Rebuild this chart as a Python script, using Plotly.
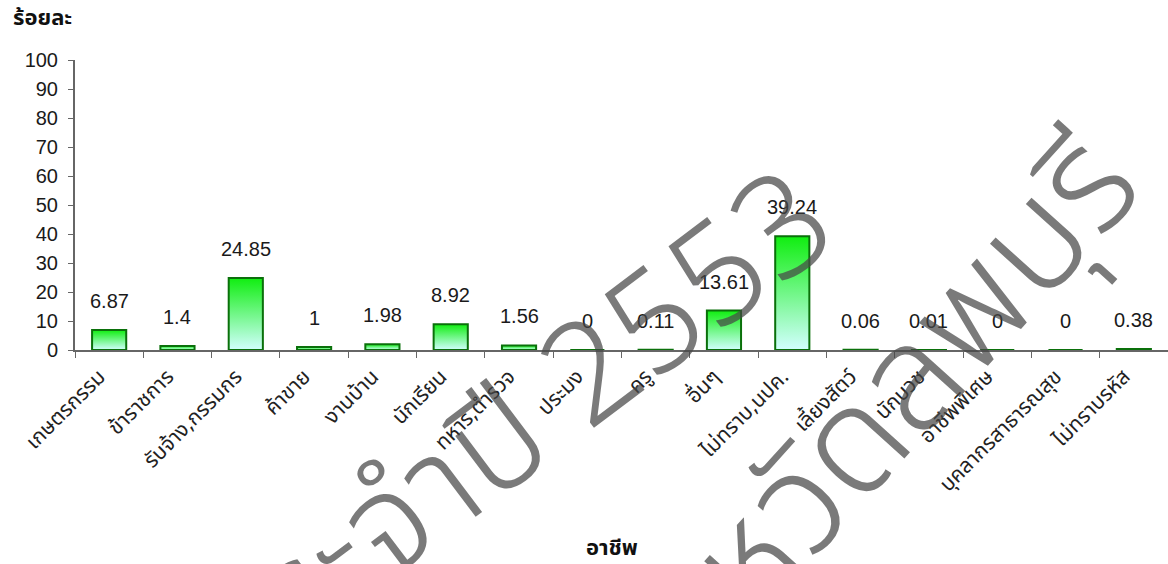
import plotly.graph_objects as go

# Occupation categories and their percentages
categories = [
    "เกษตรกรรม", "ข้าราชการ", "รับจ้าง,กรรมกร", "ค้าขาย", "งานบ้าน",
    "นักเรียน", "ทหาร,ตำรวจ", "ประมง", "ครู", "อื่นๆ",
    "ไม่ทราบ,นปค.", "เลี้ยงสัตว์", "นักบวช", "อาชีพพิเศษ",
    "บุคลากรสาธารณสุข", "ไม่ทราบรหัส",
]
percent = [6.87, 1.4, 24.85, 1, 1.98, 8.92, 1.56, 0, 0.11, 13.61,
           39.24, 0.06, 0.01, 0, 0, 0.38]
y_ticks = list(range(0, 101, 10))

THAI = "Tahoma, 'Noto Sans Thai', Loma, Garuda, 'Noto Sans', sans-serif"
NUM = "'Liberation Sans', Arial, sans-serif"
EDGE = "#0a700a"
BAR_W = 0.5

fig = go.Figure()

# gradient fill for each bar (light cyan at the base, bright green at the top)
for i, v in enumerate(percent):
    if v <= 0:
        continue
    x0, x1 = i - BAR_W / 2, i + BAR_W / 2
    fig.add_trace(go.Scatter(
        x=[x0, x1, x1, x0, x0], y=[0, 0, v, v, 0],
        mode="lines", fill="toself", line=dict(width=0),
        fillgradient=dict(type="vertical",
                          colorscale=[[0, "#d2ffff"], [1, "#10ee10"]]),
        hoverinfo="skip", showlegend=False, xaxis="x", yaxis="y",
    ))

# bar outlines on the category axis
fig.add_trace(go.Bar(
    x=categories, y=percent, width=BAR_W,
    marker=dict(color="rgba(0,0,0,0)", line=dict(color=EDGE, width=2)),
    xaxis="x2", yaxis="y", showlegend=False,
))

# value labels above the bars
for c, v in zip(categories, percent):
    fig.add_annotation(x=c, y=v, xref="x2", yref="y", text=f"{v:g}",
                       showarrow=False, yshift=29,
                       font=dict(family=NUM, size=20, color="#1a1a1a"))

# axis titles
fig.add_annotation(x=0, y=1, xref="paper", yref="paper", xanchor="center",
                   yanchor="bottom", xshift=-33, yshift=23, text="<b>ร้อยละ</b>",
                   showarrow=False, font=dict(family=THAI, size=22, color="#111"))
fig.add_annotation(x=0.491, y=0, xref="paper", yref="paper", xanchor="center",
                   yanchor="top", yshift=-180, text="<b>อาชีพ</b>",
                   showarrow=False, font=dict(family=THAI, size=22, color="#111"))

# watermark
WM = dict(family=THAI, size=146, color="rgba(70,70,70,0.72)", weight=300)
fig.add_annotation(x=0.398, y=-0.3, xref="paper", yref="paper",
                   xanchor="center", yanchor="middle",
                   text="ประจำปี 2553", textangle=-37, showarrow=False,
                   font={**WM, "size": 140})
fig.add_annotation(x=0.724, y=-0.293, xref="paper", yref="paper",
                   xanchor="center", yanchor="middle",
                   text="จังหวัดลพบุรี", textangle=-48, showarrow=False, font=WM)

fig.update_layout(
    width=1168, height=564,
    margin=dict(l=75, r=0, t=60, b=214),
    paper_bgcolor="white", plot_bgcolor="white",
    showlegend=False,
    xaxis=dict(range=[-0.5, len(categories) - 0.5], visible=False),
    xaxis2=dict(
        overlaying="x", anchor="y", side="bottom", type="category",
        range=[-0.5, len(categories) - 0.5],
        tickson="boundaries", ticks="outside", ticklen=6, tickcolor="#666",
        showline=True, linecolor="#666", linewidth=2, showgrid=False,
        tickangle=-45, ticklabelshift=-10, ticklabelstandoff=4,
        tickfont=dict(family=THAI, size=21, color="#222"),
    ),
    yaxis=dict(
        range=[0, 100], tickvals=y_ticks, ticks="outside", ticklen=5,
        tickcolor="#666", showline=True, linecolor="#666", linewidth=2,
        showgrid=False, zeroline=False, ticklabelstandoff=6,
        tickfont=dict(family=NUM, size=20, color="#1a1a1a"),
    ),
)

fig.write_html("out.html")
